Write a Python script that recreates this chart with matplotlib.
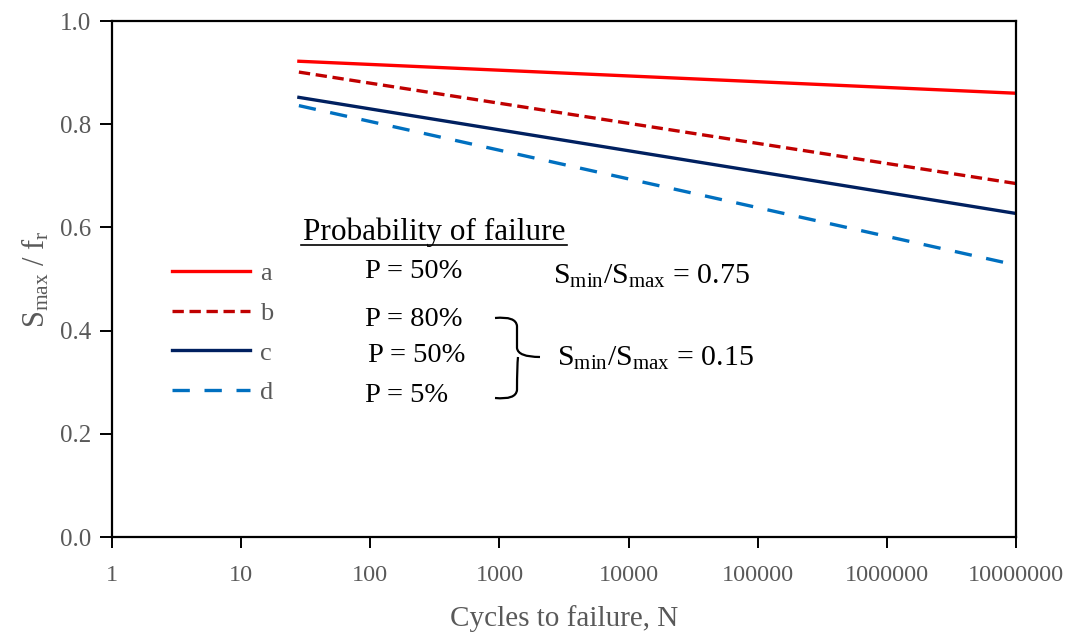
import numpy as np
import matplotlib.pyplot as plt
from matplotlib.path import Path
from matplotlib.patches import PathPatch

plt.rcParams['font.family'] = ['Liberation Serif', 'DejaVu Serif']
plt.rcParams['mathtext.fontset'] = 'custom'
plt.rcParams['mathtext.rm'] = 'Liberation Serif'
plt.rcParams['mathtext.it'] = 'Liberation Serif:italic'

# data
n_cycles = [28, 1e7]
s_a = [0.922, 0.860]
s_b = [0.901, 0.685]
s_c = [0.852, 0.627]
s_d = [0.836, 0.527]
series_labels = ['a', 'b', 'c', 'd']
xticks = [1, 10, 100, 1000, 1e4, 1e5, 1e6, 1e7]
xticklabels = ['1', '10', '100', '1000', '10000', '100000', '1000000', '10000000']
yticks = [0.0, 0.2, 0.4, 0.6, 0.8, 1.0]

gray = '#595959'

fig = plt.figure(figsize=(10.8, 6.32), dpi=100)
ax = fig.add_axes([112/1080, 1-537/632, 904/1080, 516/632])

lw = 2.4
ax.plot(n_cycles, s_a, color='#FF0000', lw=lw, label=series_labels[0])
ax.plot(n_cycles, s_b, color='#C00000', lw=lw, dashes=(3.4, 1.7), label=series_labels[1])
ax.plot(n_cycles, s_c, color='#002060', lw=lw, label=series_labels[2])
ax.plot(n_cycles, s_d, color='#0070C0', lw=lw, dashes=(5.2, 4.4), label=series_labels[3])

ax.set_xscale('log')
ax.set_xlim(1, 1e7)
ax.set_ylim(0, 1.0)
ax.set_xticks(xticks)
ax.set_xticklabels(xticklabels)
ax.minorticks_off()
ax.set_yticks(yticks)
ax.set_yticklabels(['%.1f' % v for v in yticks])

for s in ax.spines.values():
    s.set_linewidth(1.6)
    s.set_color('black')
ax.tick_params(axis='both', direction='out', width=1.4, colors='black', labelcolor=gray)
ax.tick_params(axis='y', length=9, pad=6, labelsize=18)
ax.tick_params(axis='x', length=8, pad=12, labelsize=17.5)

ax.set_xlabel('Cycles to failure, N', fontsize=21, color=gray, labelpad=14)
ax.set_ylabel(r'S$_{\rm max}$ / f$_{\rm r}$', fontsize=22, color=gray, labelpad=6)

leg = ax.legend(loc='upper left', bbox_to_anchor=(0.04, 0.58), frameon=False,
                fontsize=19, handlelength=2.95, handletextpad=0.4, labelspacing=0.62)
for t in leg.get_texts():
    t.set_color(gray)


def px(x, y):
    return ((x - 112) / 904, (537 - y) / 516)


fs = 20.5
ax.text(*px(434, 232), 'Probability of failure', transform=ax.transAxes,
        fontsize=22.5, ha='center', va='center')
x0, y0 = px(301, 245)
x1, _ = px(567, 245)
ax.plot([x0, x1], [y0, y0], color='black', lw=1.2, transform=ax.transAxes)

ax.text(*px(414, 272), 'P = 50%', transform=ax.transAxes, fontsize=fs, ha='center', va='center')
ax.text(*px(414, 320), 'P = 80%', transform=ax.transAxes, fontsize=fs, ha='center', va='center')
ax.text(*px(417, 356), 'P = 50%', transform=ax.transAxes, fontsize=fs, ha='center', va='center')
ax.text(*px(407, 396), 'P = 5%', transform=ax.transAxes, fontsize=fs, ha='center', va='center')

ax.text(*px(553, 276), r'S$_{\rm min}$/S$_{\rm max}$ = 0.75', transform=ax.transAxes,
        fontsize=21.5, ha='left', va='center')
ax.text(*px(557, 358), r'S$_{\rm min}$/S$_{\rm max}$ = 0.15', transform=ax.transAxes,
        fontsize=21.5, ha='left', va='center')

# curly brace
pts = [px(495, 318), px(516, 316), px(517, 326),
       px(517, 348), px(518, 357), px(540, 357),
       px(518, 357), px(517, 366),
       px(517, 390), px(516, 400), px(495, 398)]
codes = [Path.MOVETO, Path.CURVE3, Path.CURVE3,
         Path.LINETO, Path.CURVE3, Path.LINETO,
         Path.MOVETO, Path.CURVE3,
         Path.LINETO, Path.CURVE3, Path.CURVE3]
ax.add_patch(PathPatch(Path(pts, codes), facecolor='none', edgecolor='black', lw=1.6,
                       transform=ax.transAxes))

fig.savefig('out.png', dpi=100)
